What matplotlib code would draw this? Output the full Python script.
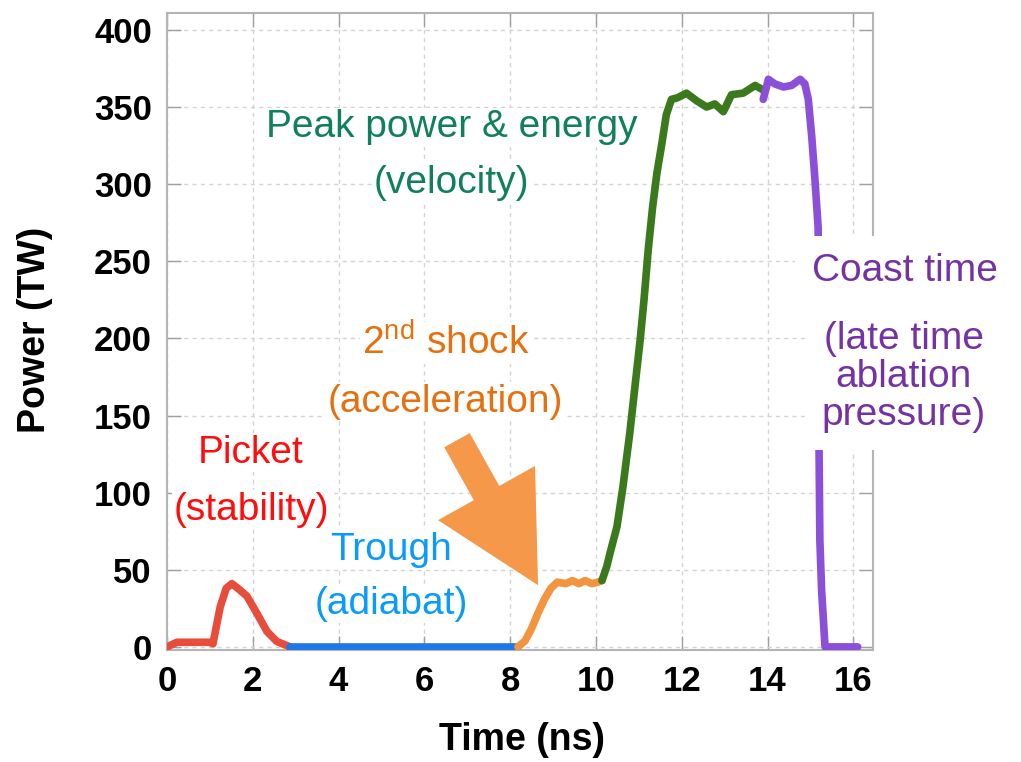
import matplotlib
matplotlib.use("Agg")
import matplotlib.pyplot as plt
from matplotlib.patches import FancyArrowPatch

plt.rcParams['font.family'] = ['Liberation Sans', 'DejaVu Sans']
plt.rcParams['mathtext.fontset'] = 'custom'
plt.rcParams['mathtext.rm'] = 'Liberation Sans'

# laser pulse shape, split into its phases (time in ns, power in TW)
picket_t = [0.0, 0.23, 0.6, 1.0, 1.07, 1.24, 1.38, 1.51, 1.65, 1.86, 2.09, 2.33, 2.56, 2.87]
picket_p = [0, 3, 3, 3, 2, 26, 38, 41, 38, 33, 22, 10, 3.5, 0]

trough_t = [2.87, 8.18]
trough_p = [0, 0]

shock_t = [8.18, 8.35, 8.5, 8.65, 8.8, 8.95, 9.1, 9.3, 9.45, 9.6, 9.75, 9.9, 10.05, 10.14]
shock_p = [0, 4, 12, 22, 31, 38, 42, 41, 43, 41, 43, 41, 42, 43]

peak_t = [10.14, 10.25, 10.33, 10.49, 10.63, 10.79, 10.91, 11.03, 11.12, 11.22, 11.32, 11.42,
          11.54, 11.64, 11.76, 11.9, 12.11, 12.35, 12.58, 12.77, 12.97, 13.16, 13.43, 13.71, 13.9]
peak_p = [43, 52, 61, 78, 104, 139, 169, 199, 225, 258, 285, 307,
          327, 345, 355, 356, 359, 354, 350, 352, 347, 358, 359, 364, 361]

coast_t = [13.9, 14.02, 14.17, 14.37, 14.56, 14.76, 14.87, 14.95, 15.03, 15.1, 15.18, 15.2,
           15.22, 15.26, 15.34, 16.1]
coast_p = [355, 368, 365, 363, 364, 368, 365, 355, 331, 305, 272, 131,
           69, 37, 0, 0]

xticks = [0, 2, 4, 6, 8, 10, 12, 14, 16]
yticks = [0, 50, 100, 150, 200, 250, 300, 350, 400]

fig = plt.figure(figsize=(10.21, 7.62), dpi=100)
ax = fig.add_axes([0.1636, 0.147, 0.6915, 0.836])

kw = dict(lw=5.5, solid_capstyle='round', solid_joinstyle='round', zorder=3)
ax.plot(picket_t, picket_p, color='#e84c3a', **kw)
ax.plot(trough_t, trough_p, color='#1f78e6', **kw)
ax.plot(shock_t, shock_p, color='#f3943f', **kw)
ax.plot(peak_t, peak_p, color='#3b7a1c', **kw)
ax.plot(coast_t, coast_p, color='#8c4fda', **kw)

ax.set_xlim(0, 16.46)
ax.set_ylim(-2, 411)
ax.set_xticks(xticks)
ax.set_yticks(yticks)
ax.grid(True, color='#d4d4d4', linestyle=(0, (3, 3)), lw=1, zorder=0)
ax.set_axisbelow(True)
for s in ax.spines.values():
    s.set_color('#b4b4b4')
    s.set_linewidth(1.5)
ax.tick_params(direction='in', length=10, width=1, color='#a0a0a0',
               top=True, right=True, labelsize=25, pad=11)
for lab in ax.get_xticklabels() + ax.get_yticklabels():
    lab.set_fontweight('bold')

ax.set_xlabel('Time (ns)', fontsize=27, fontweight='bold', va='center')
ax.set_ylabel('Power (TW)', fontsize=27, fontweight='bold', va='center')
ax.xaxis.set_label_coords(0.503, -0.141)
ax.yaxis.set_label_coords(-0.187, 0.502)

# phase annotations, one text per line so each gets its own white backing
def note(x, y, s, c, pad=1, ls=1.2):
    ax.text(x, y, s, color=c, fontsize=28, ha='center', va='center', linespacing=ls,
            bbox=dict(facecolor='white', edgecolor='none', pad=pad),
            zorder=5, clip_on=False)

note(6.64, 337, 'Peak power & energy', '#0f7f5c')
note(6.64, 301, '(velocity)', '#0f7f5c')
note(6.50, 197, r'2$^{\mathrm{nd}}$ shock', '#e6700e')
note(6.48, 159, '(acceleration)', '#e6700e')
note(1.96, 126, 'Picket', '#ff0d0d')
note(1.96, 89, '(stability)', '#ff0d0d')
note(5.22, 63, 'Trough', '#0a9bfa')
note(5.22, 28, '(adiabat)', '#0a9bfa')
note(17.2, 244, 'Coast time', '#7432a4', pad=12)
note(17.18, 175, '(late time\nablation\npressure)', '#7432a4', pad=12, ls=1.07)

arrow = FancyArrowPatch((6.76, 134), (8.65, 40),
                        arrowstyle='simple,head_length=76,head_width=80,tail_width=21',
                        mutation_scale=1, shrinkA=0, shrinkB=0,
                        color='#f5984a', lw=0, zorder=4)
ax.add_patch(arrow)

fig.savefig('out.png', dpi=100)
